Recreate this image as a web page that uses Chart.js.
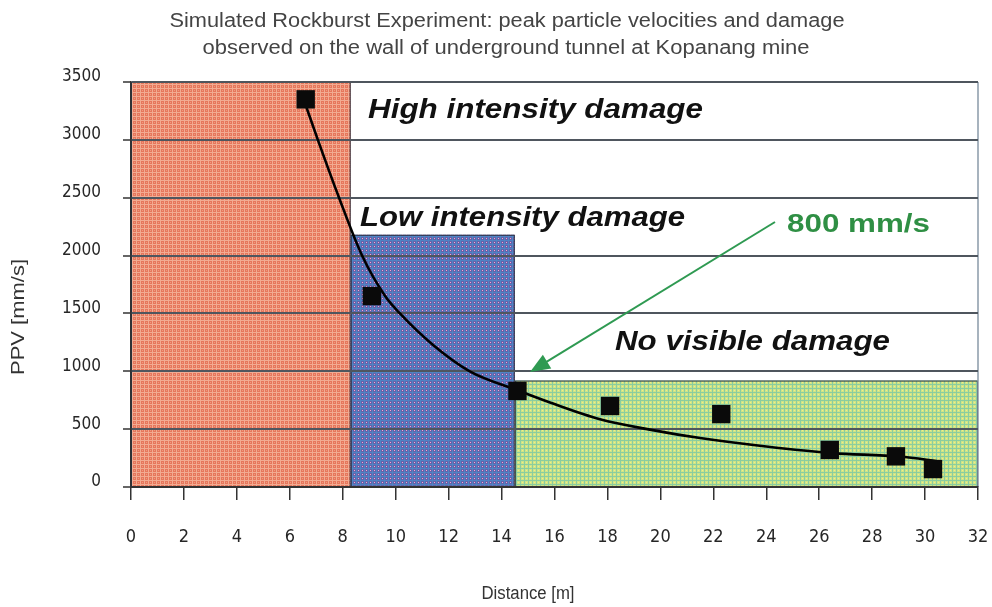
<!DOCTYPE html>
<html><head><meta charset="utf-8">
<script src="https://cdn.jsdelivr.net/npm/chart.js@4.4.1/dist/chart.umd.min.js"></script>
<style>html,body{margin:0;padding:0;background:#fff;}</style>
</head><body>
<canvas id="c" width="992" height="607"></canvas>
<script>
// ---- data ----
const titleLines = ['Simulated Rockburst Experiment: peak particle velocities and damage',
                    'observed on the wall of underground tunnel at Kopanang mine'];
const xTitle = 'Distance [m]';
const yTitle = 'PPV [mm/s]';
const regionLabels = ['High intensity damage', 'Low intensity damage', 'No visible damage'];
const regionStart = [0, 8.3, 14.5];
const regionEnd = [8.3, 14.5, 32];
const regionTop = [3500, 2180, 920];
const distance = [6.6, 9.1, 14.6, 18.1, 22.3, 26.4, 28.9, 30.3];
const ppv = [3350, 1650, 830, 700, 630, 320, 265, 155];
const curveX = [6.57, 7.06, 7.86, 8.73, 9.6, 10.16, 11.4, 12.8, 14.55, 15.83, 17.72, 19.6, 21.5, 24.0, 26.5, 29.05, 30.56];
const curveY = [3320, 3000, 2500, 2000, 1650, 1500, 1230, 1000, 840, 730, 585, 496, 423, 350, 293, 263, 220];
const thresholdLabel = '800 mm/s';
const xTicks = [0,2,4,6,8,10,12,14,16,18,20,22,24,26,28,30,32];
const yTicks = [0,500,1000,1500,2000,2500,3000,3500];

// ---- styling ----
const canvas = document.getElementById('c');
const ctx0 = canvas.getContext('2d');
const NARROW = "'Liberation Sans Narrow', 'DejaVu Sans Condensed', 'Liberation Sans', Arial, sans-serif";
const SANS = "'Liberation Sans', Arial, sans-serif";

function makePattern(base, line, dot) {
  const c = document.createElement('canvas'); c.width = 4; c.height = 4;
  const g = c.getContext('2d');
  g.fillStyle = base; g.fillRect(0, 0, 4, 4);
  g.fillStyle = line; g.fillRect(0, 0, 4, 1); g.fillRect(0, 0, 1, 4);
  if (dot) { g.fillStyle = dot; g.fillRect(2, 2, 1, 1); }
  return ctx0.createPattern(c, 'repeat');
}
const patterns = [
  makePattern('#e6775c', '#f2ab92', '#f09a80'),
  makePattern('#6462aa', '#4f84c4', '#f2a6cf'),
  makePattern('#cde487', '#8acda0', '#f2ee86')
];

function drawFit(ctx, text, x, y, font, color, align, width, baseline) {
  ctx.save();
  ctx.font = font; ctx.fillStyle = color;
  ctx.textBaseline = baseline || 'middle'; ctx.textAlign = align || 'left';
  const w = ctx.measureText(text).width;
  ctx.translate(x, y); ctx.scale(width ? width / w : 1, 1);
  ctx.fillText(text, 0, 0);
  ctx.restore();
}

const backPlugin = {
  id: 'back',
  beforeDraw(chart) {
    const {ctx, chartArea: a, scales: {x, y}} = chart;
    ctx.save();
    ctx.fillStyle = '#fff'; ctx.fillRect(0, 0, chart.width, chart.height);
    regionStart.forEach((s, i) => {
      const l = x.getPixelForValue(s), r = x.getPixelForValue(regionEnd[i]);
      const t = y.getPixelForValue(regionTop[i]), b = y.getPixelForValue(0);
      ctx.fillStyle = patterns[i];
      ctx.fillRect(l, t, r - l, b - t);
      ctx.strokeStyle = '#2b3040'; ctx.lineWidth = 1;
      ctx.strokeRect(l + 0.5, t + 0.5, r - l - 1, b - t - 1);
    });
    ctx.strokeStyle = '#8a9aa8'; ctx.lineWidth = 1.5;
    ctx.beginPath(); ctx.moveTo(a.right, a.top); ctx.lineTo(a.right, a.bottom); ctx.stroke();
    ctx.restore();
  }
};

const annoPlugin = {
  id: 'anno',
  afterDraw(chart) {
    const {ctx} = chart;
    // title
    drawFit(ctx, titleLines[0], 507, 21, '20px ' + SANS, '#444', 'center', 675);
    drawFit(ctx, titleLines[1], 506, 48, '20px ' + SANS, '#444', 'center', 607);
    // axis titles
    drawFit(ctx, xTitle, 528, 594, '18px ' + SANS, '#333', 'center', 93);
    ctx.save(); ctx.translate(19, 317); ctx.rotate(-Math.PI / 2);
    drawFit(ctx, yTitle, 0, 0, '19px ' + SANS, '#333', 'center', 116);
    ctx.restore();
    // region labels
    const bi = 'italic bold 28px ' + SANS;
    drawFit(ctx, regionLabels[0], 368, 118, bi, '#111', 'left', 335, 'alphabetic');
    drawFit(ctx, regionLabels[1], 360, 226, bi, '#111', 'left', 325, 'alphabetic');
    drawFit(ctx, regionLabels[2], 615, 350, bi, '#111', 'left', 275, 'alphabetic');
    drawFit(ctx, thresholdLabel, 787, 232, 'bold 26px ' + SANS, '#2f8f44', 'left', 143, 'alphabetic');
    // arrow
    const x1 = 775, y1 = 222, x2 = 530, y2 = 372;
    const ang = Math.atan2(y2 - y1, x2 - x1);
    ctx.save();
    ctx.strokeStyle = '#2f9a52'; ctx.fillStyle = '#2f9a52'; ctx.lineWidth = 2;
    ctx.beginPath(); ctx.moveTo(x1, y1);
    ctx.lineTo(x2 - 14 * Math.cos(ang), y2 - 14 * Math.sin(ang)); ctx.stroke();
    ctx.beginPath(); ctx.moveTo(x2, y2);
    ctx.lineTo(x2 - 20 * Math.cos(ang) + 8 * Math.sin(ang), y2 - 20 * Math.sin(ang) - 8 * Math.cos(ang));
    ctx.lineTo(x2 - 20 * Math.cos(ang) - 8 * Math.sin(ang), y2 - 20 * Math.sin(ang) + 8 * Math.cos(ang));
    ctx.closePath(); ctx.fill();
    ctx.restore();
  }
};

new Chart(canvas, {
  type: 'scatter',
  data: {
    datasets: [
      {
        label: 'PPV',
        data: distance.map((d, i) => ({x: d, y: ppv[i]})),
        pointStyle: 'rect', pointRadius: 13, pointHoverRadius: 13,
        backgroundColor: '#0a0a0a', borderColor: '#0a0a0a', borderWidth: 0,
        showLine: false, order: 0
      },
      {
        label: 'Fit',
        data: curveX.map((d, i) => ({x: d, y: curveY[i]})),
        showLine: true, pointRadius: 0, borderColor: '#000', borderWidth: 2.6,
        cubicInterpolationMode: 'monotone', fill: false, order: 1
      }
    ]
  },
  options: {
    responsive: false, animation: false, devicePixelRatio: 1,
    layout: {padding: {top: 82, right: 14, left: 0, bottom: 0}},
    plugins: {legend: {display: false}, tooltip: {enabled: false}, title: {display: false}},
    scales: {
      x: {
        type: 'linear', min: 0, max: 32,
        afterBuildTicks: s => { s.ticks = xTicks.map(v => ({value: v})); },
        afterFit: s => { s.height = 120; s.paddingLeft = 0; s.paddingRight = 0; },
        grid: {display: true, drawOnChartArea: false, drawTicks: true, tickLength: 13, color: '#333', tickColor: '#333', lineWidth: 1.5},
        border: {display: true, color: '#333', width: 2},
        ticks: {padding: 27, color: '#262626', font: {family: NARROW, size: 18}, maxRotation: 0, autoSkip: false,
                callback: v => String(v)}
      },
      y: {
        type: 'linear', min: 0, max: 3500,
        afterBuildTicks: s => { s.ticks = yTicks.map(v => ({value: v})); },
        afterFit: s => { s.width = 131; s.paddingTop = 0; s.paddingBottom = 0; },
        grid: {color: '#4f565e', lineWidth: 2, drawTicks: true, tickLength: 8, tickColor: '#333', tickWidth: 1.5},
        border: {display: true, color: '#333', width: 1.5},
        ticks: {padding: 22, color: '#262626', labelOffset: -5, font: {family: NARROW, size: 17},
                callback: v => String(v)}
      }
    }
  },
  plugins: [backPlugin, annoPlugin]
});
</script>
</body></html>
